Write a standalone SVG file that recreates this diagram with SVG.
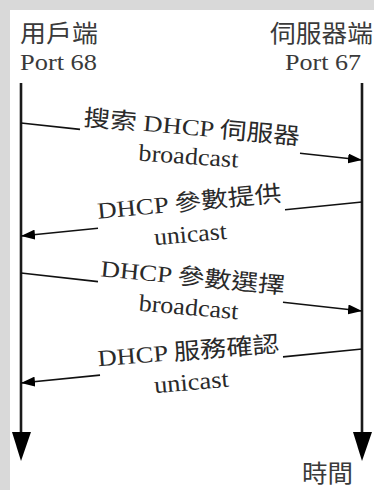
<svg xmlns="http://www.w3.org/2000/svg" width="374" height="490" viewBox="0 0 374 490">
<defs>
<style>
.hdr{font-family:"Liberation Serif","Noto Sans CJK TC",serif;font-size:24px;fill:#3a3a3a}
.lbl{font-family:"Liberation Serif","Noto Sans CJK TC",serif;font-size:23px;fill:#2a2a2a;text-anchor:middle}
.sub{font-family:"Liberation Serif",serif;font-size:24px;fill:#2a2a2a;text-anchor:middle}
.life{stroke:#1a1a1a;stroke-width:2.6;fill:none}
.msg{stroke:#111;stroke-width:1.6;fill:none}
.head{fill:#000}
</style>
<marker id="ah" markerUnits="userSpaceOnUse" markerWidth="15" markerHeight="10" refX="14" refY="5" orient="auto">
<path d="M0,0 L14,5 L0,10 z" fill="#000"/>
</marker>
</defs>
<rect x="0" y="0" width="374" height="490" fill="#d9d9d9"/>
<rect x="10" y="10" width="364" height="480" fill="#ffffff"/>

<g id="client">
<text class="hdr" x="20" y="42" textLength="78" lengthAdjust="spacingAndGlyphs">用戶端</text>
<text class="hdr" x="20" y="70" font-size="25" textLength="77" lengthAdjust="spacingAndGlyphs">Port 68</text>
</g>
<g id="server">
<text class="hdr" x="270" y="42" textLength="103" lengthAdjust="spacingAndGlyphs">伺服器端</text>
<text class="hdr" x="285" y="70" font-size="25" textLength="76" lengthAdjust="spacingAndGlyphs">Port 67</text>
</g>
<g id="time">
<text class="hdr" x="302" y="482" font-size="22" textLength="51" lengthAdjust="spacingAndGlyphs">時間</text>
</g>

<g id="connectors">
<line class="life" x1="21" y1="83" x2="21" y2="436"/>
<polygon class="head" points="12,432 31,432 21,461"/>
<line class="life" x1="362" y1="83" x2="362" y2="436"/>
<polygon class="head" points="353,432 372,432 362,461"/>

<g id="msg1">
<line class="msg" x1="21" y1="123" x2="80" y2="129.4"/>
<line class="msg" x1="300" y1="153.3" x2="362" y2="160" marker-end="url(#ah)"/>
<text class="lbl" x="191" y="135" transform="rotate(5 191 135)" textLength="217" lengthAdjust="spacingAndGlyphs">搜索 DHCP 伺服器</text>
<text class="sub" x="188" y="164" transform="rotate(4 188 164)" textLength="100" lengthAdjust="spacingAndGlyphs">broadcast</text>
</g>
<g id="msg2">
<line class="msg" x1="362" y1="202" x2="285" y2="209.7"/>
<line class="msg" x1="98" y1="228.3" x2="21" y2="236" marker-end="url(#ah)"/>
<text class="lbl" x="190" y="210" transform="rotate(-5.5 190 210)" textLength="185" lengthAdjust="spacingAndGlyphs">DHCP 參數提供</text>
<text class="sub" x="191" y="242" transform="rotate(-5 191 242)" textLength="73" lengthAdjust="spacingAndGlyphs">unicast</text>
</g>
<g id="msg3">
<line class="msg" x1="21" y1="273" x2="98" y2="281.6"/>
<line class="msg" x1="283" y1="302.2" x2="362" y2="311" marker-end="url(#ah)"/>
<text class="lbl" x="192" y="285" transform="rotate(5.5 192 285)" textLength="185" lengthAdjust="spacingAndGlyphs">DHCP 參數選擇</text>
<text class="sub" x="188" y="315" transform="rotate(5 188 315)" textLength="100" lengthAdjust="spacingAndGlyphs">broadcast</text>
</g>
<g id="msg4">
<line class="msg" x1="362" y1="349" x2="283" y2="356.9"/>
<line class="msg" x1="100" y1="375.1" x2="21" y2="383" marker-end="url(#ah)"/>
<text class="lbl" x="189" y="359" transform="rotate(-4.5 189 359)" textLength="182" lengthAdjust="spacingAndGlyphs">DHCP 服務確認</text>
<text class="sub" x="192" y="390" transform="rotate(-5 192 390)" textLength="75" lengthAdjust="spacingAndGlyphs">unicast</text>
</g>
</g>
</svg>
